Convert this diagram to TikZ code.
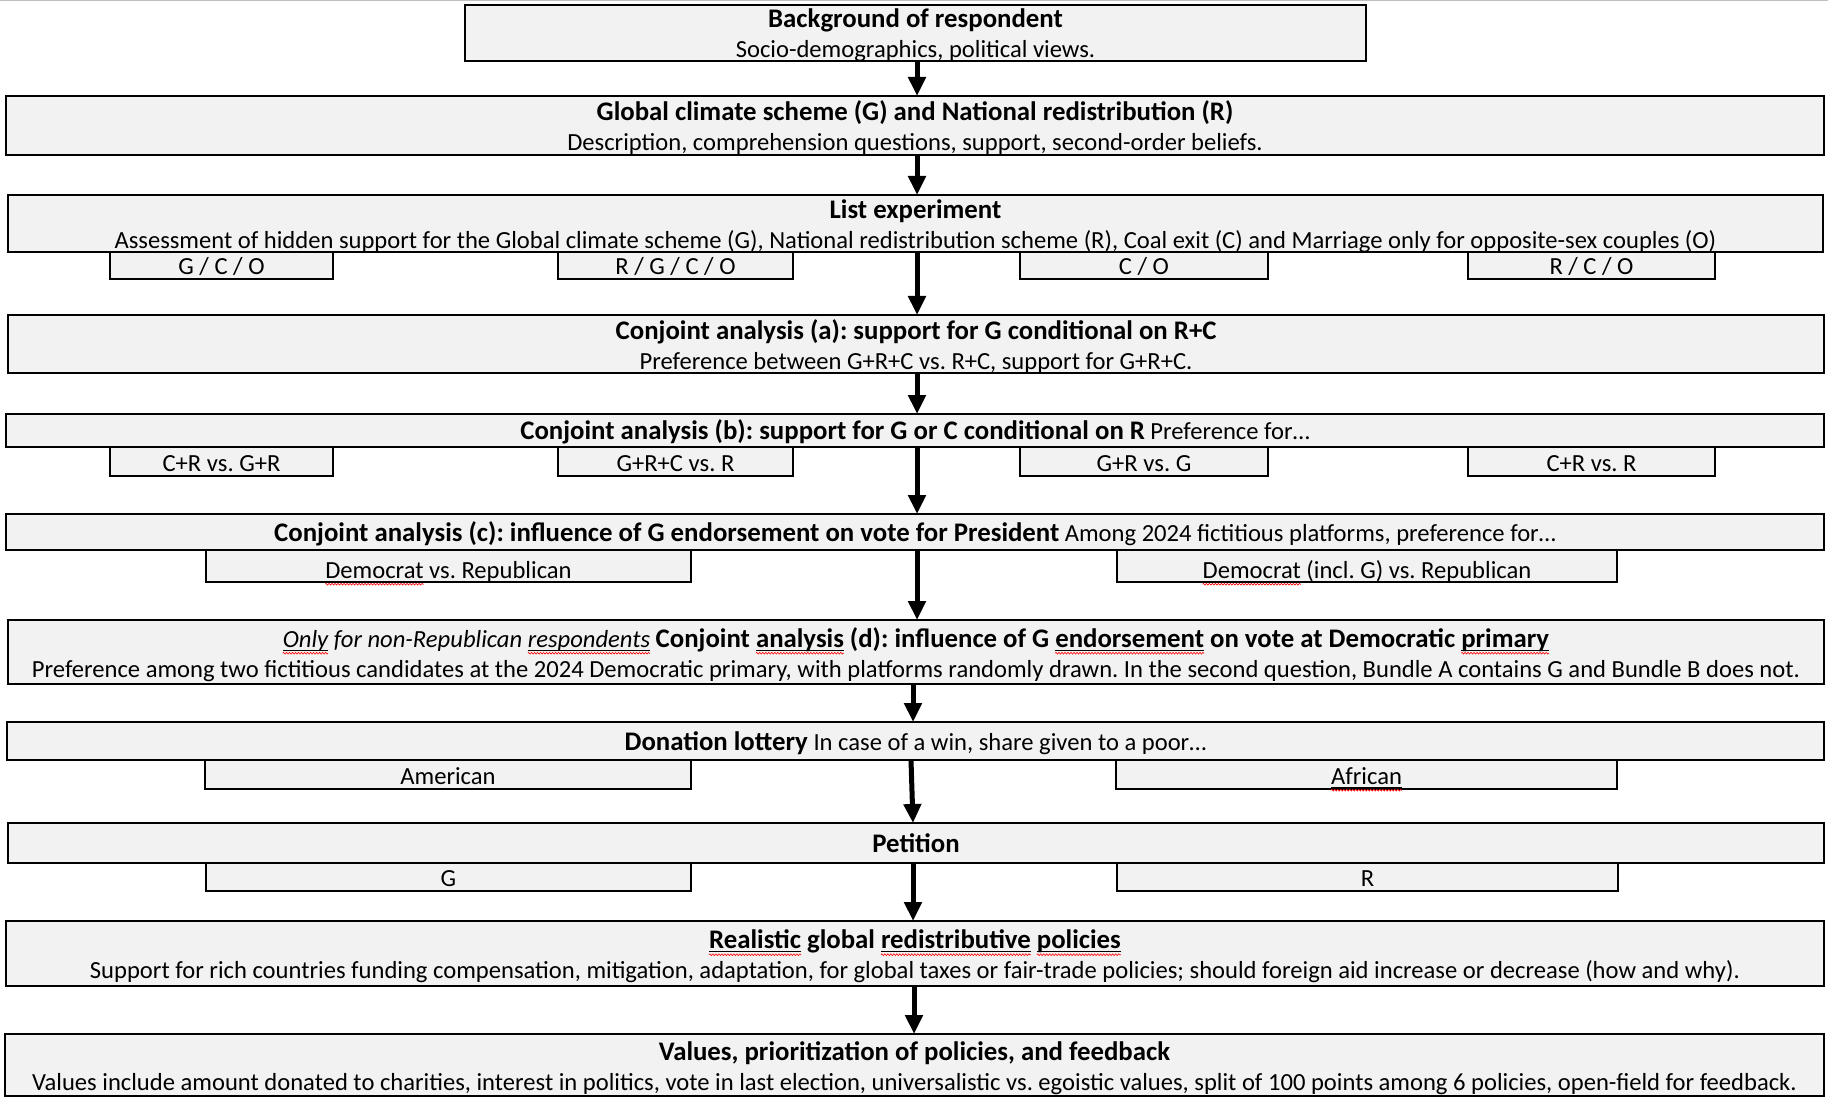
\documentclass[tikz,border=0pt]{standalone}
\usepackage{fontspec}
\setmainfont{Carlito}
\usetikzlibrary{arrows.meta,decorations.pathmorphing}
\definecolor{boxfill}{HTML}{F2F2F2}
\frenchspacing

% spell-check style mark: black underline with a red wavy line below it
\newsavebox\flagbox
\newlength\flagwd
\newcommand\flagword[1]{\sbox\flagbox{#1}\setlength\flagwd{\wd\flagbox}%
  \rlap{\tikz[baseline=0pt]{\useasboundingbox (0pt,0pt);
    \draw[black, line width=1.3pt] (0pt,-3.2pt) -- (\flagwd,-3.2pt);
    \draw[red, line width=0.6pt, decorate, decoration={zigzag, segment length=3pt, amplitude=0.9pt}]
      (0pt,-6.2pt) -- (\flagwd,-6.2pt);}}%
  \usebox\flagbox}

% headings are set one size larger than the body text
\newcommand\heading[1]{{\fontsize{26.8}{30}\selectfont\bfseries #1}}
% fixed line metrics, so that the text sits at the same height in every box
\newcommand\TopStrut{\rule{0pt}{23pt}}
\newcommand\bodyline[1]{\raisebox{0pt}[\height][0pt]{#1}\rule[-3pt]{0pt}{0pt}}
\newcommand\OneStrut{\rule[-4pt]{0pt}{27pt}}
\newcommand\LowStrut{\rule[-4pt]{0pt}{32pt}}

\tikzset{
  box/.style={draw=black, line width=2pt, fill=boxfill, inner sep=0pt, outer sep=0pt,
    anchor=north west, align=center, font=\fontsize{24.6}{30}\selectfont},
  flow/.style={line width=5pt, -{Triangle[length=19pt,width=17pt]}},
}

\begin{document}
\begin{tikzpicture}[x=1pt, y=-1pt]
\useasboundingbox (0,0) rectangle (1828,1099);
\draw[black!25, line width=1pt] (0,0.5) -- (1828,0.5);

% main stages
\node[box, minimum width=901pt, minimum height=56pt] (b1) at (465,5)
  {\TopStrut\heading{Background of respondent}\\\bodyline{Socio-demographics, political views.}};
\node[box, minimum width=1818pt, minimum height=59pt] (b2) at (6,96)
  {\TopStrut\heading{Global climate scheme (G) and National redistribution (R)}\\\bodyline{Description, comprehension questions, support, second-order beliefs.}};
\node[box, minimum width=1815pt, minimum height=57pt] (b3) at (8,195)
  {\TopStrut\heading{List experiment}\\\bodyline{Assessment of hidden support for the Global climate scheme (G), National redistribution scheme (R), Coal exit (C) and Marriage only for opposite-sex couples (O)}};
\node[box, minimum width=1816pt, minimum height=58pt] (b4) at (8,315)
  {\TopStrut\heading{Conjoint analysis (a): support for G conditional on R+C}\\\bodyline{Preference between G+R+C vs. R+C, support for G+R+C.}};
\node[box, minimum width=1818pt, minimum height=33pt] (b5) at (6,414)
  {\OneStrut\heading{Conjoint analysis (b): support for G or C conditional on R} Preference for…};
\node[box, minimum width=1818pt, minimum height=36pt] (b6) at (6,514)
  {\OneStrut\heading{Conjoint analysis (c): influence of G endorsement on vote for President} Among 2024 fictitious platforms, preference for…};
\node[box, minimum width=1816pt, minimum height=64pt] (b7) at (8,620)
  {\TopStrut\textit{\flagword{Only} for non-Republican \flagword{respondents}} \heading{Conjoint \flagword{analysis} (d): influence of G \flagword{endorsement} on vote at Democratic \flagword{primary}}\\\bodyline{Preference among two fictitious candidates at the 2024 Democratic primary, with platforms randomly drawn. In the second question, Bundle A contains G and Bundle B does not.}};
\node[box, minimum width=1817pt, minimum height=38pt] (b8) at (7,722)
  {\OneStrut\heading{Donation lottery} In case of a win, share given to a poor…};
\node[box, minimum width=1816pt, minimum height=40pt] (b9) at (8,823)
  {\OneStrut\heading{Petition}};
\node[box, minimum width=1818pt, minimum height=65pt] (b10) at (6,921)
  {\TopStrut\heading{\flagword{Realistic} global \flagword{redistributive} \flagword{policies}}\\\bodyline{Support for rich countries funding compensation, mitigation, adaptation, for global taxes or fair-trade policies; should foreign aid increase or decrease (how and why).}};
\node[box, minimum width=1819pt, minimum height=62pt] (b11) at (5,1034)
  {\TopStrut\heading{Values, prioritization of policies, and feedback}\\\bodyline{Values include amount donated to charities, interest in politics, vote in last election, universalistic vs. egoistic values, split of 100 points among 6 policies, open-field for feedback.}};

% treatment branches
\node[box, minimum width=223pt, minimum height=27pt] (s3a) at (110,252) {\OneStrut G / C / O};
\node[box, minimum width=235pt, minimum height=27pt] (s3b) at (558,252) {\OneStrut R / G / C / O};
\node[box, minimum width=248pt, minimum height=27pt] (s3c) at (1020,252) {\OneStrut C / O};
\node[box, minimum width=247pt, minimum height=27pt] (s3d) at (1468,252) {\OneStrut R / C / O};

\node[box, minimum width=223pt, minimum height=29pt] (s5a) at (110,447) {\OneStrut C+R vs. G+R};
\node[box, minimum width=235pt, minimum height=29pt] (s5b) at (558,447) {\OneStrut G+R+C vs. R};
\node[box, minimum width=248pt, minimum height=29pt] (s5c) at (1020,447) {\OneStrut G+R vs. G};
\node[box, minimum width=247pt, minimum height=29pt] (s5d) at (1468,447) {\OneStrut C+R vs. R};

\node[box, minimum width=485pt, minimum height=32pt] (s6a) at (206,550) {\LowStrut\flagword{Democrat} vs. Republican};
\node[box, minimum width=500pt, minimum height=32pt] (s6b) at (1117,550) {\LowStrut\flagword{Democrat} (incl. G) vs. Republican};

\node[box, minimum width=486pt, minimum height=29pt] (s8a) at (205,760) {\OneStrut American};
\node[box, minimum width=501pt, minimum height=29pt] (s8b) at (1116,760) {\OneStrut\flagword{African}};

\node[box, minimum width=485pt, minimum height=28pt] (s9a) at (206,863) {\OneStrut G};
\node[box, minimum width=501pt, minimum height=28pt] (s9b) at (1117,863) {\OneStrut R};

% flow arrows
\coordinate (xa) at (917,0);
\coordinate (xb) at (913,0);
\coordinate (xc) at (911,0);
\coordinate (xd) at (914,0);
\draw[flow] (b1.south -| xa) -- (b2.north -| xa);
\draw[flow] (b2.south -| xa) -- (b3.north -| xa);
\draw[flow] (b3.south -| xa) -- (b4.north -| xa);
\draw[flow] (b4.south -| xa) -- (b5.north -| xa);
\draw[flow] (b5.south -| xa) -- (b6.north -| xa);
\draw[flow] (b6.south -| xa) -- (b7.north -| xa);
\draw[flow] (b7.south -| xb) -- (b8.north -| xb);
\draw[flow] (b8.south -| xc) -- (b9.north -| xb);
\draw[flow] (b9.south -| xb) -- (b10.north -| xb);
\draw[flow] (b10.south -| xd) -- (b11.north -| xd);
\end{tikzpicture}
\end{document}
